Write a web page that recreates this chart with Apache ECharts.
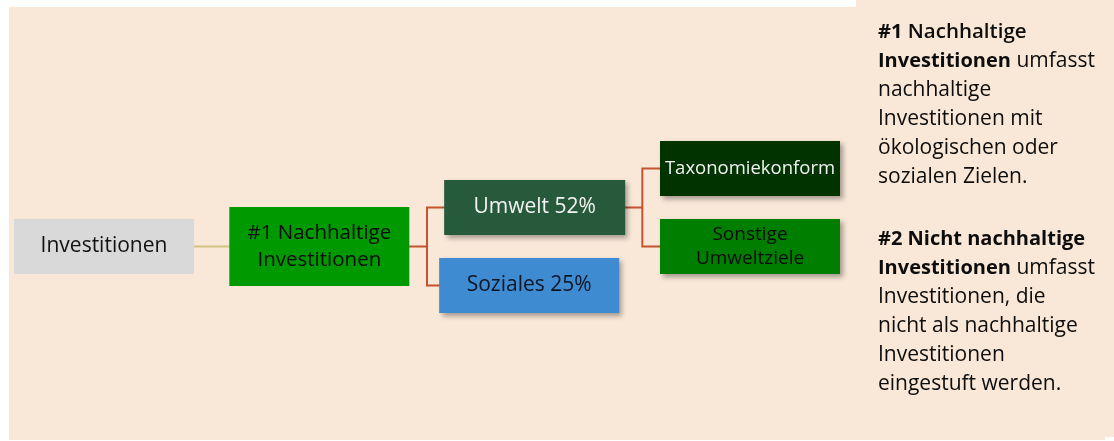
<!DOCTYPE html>
<html>
<head>
<meta charset="utf-8">
<script src="https://cdn.jsdelivr.net/npm/echarts@6/dist/echarts.min.js"></script>
<style>
  html, body { margin: 0; padding: 0; background: #fff; }
  #chart { width: 1114px; height: 441px; }
</style>
</head>
<body>
<div id="chart"></div>
<script>
// tree nodes and the parent of each (-1 = root)
const nodeNames = ['Investitionen', '#1 Nachhaltige\nInvestitionen', 'Umwelt 52%', 'Soziales 25%', 'Taxonomiekonform', 'Sonstige\nUmweltziele']
const nodeParents = [-1, 0, 1, 1, 2, 2]

// explanation text on the right ({b|..} = bold, {s|..} = semibold)
const noteOne = ['{b|#1} {s|Nachhaltige}', '{b|Investitionen} umfasst', 'nachhaltige', 'Investitionen mit', 'ökologischen oder', 'sozialen Zielen.']
const noteTwo = ['{b|#2 Nicht nachhaltige}', '{b|Investitionen} umfasst', 'Investitionen, die', 'nicht als nachhaltige', 'Investitionen', 'eingestuft werden.']

const FONT = 'Open Sans'
const RED = '#C4532F'
const TAN = '#D2C483'

// look of every box, same order as nodeNames
const boxLook = [
  { size: [180, 55], fill: '#D9D9D9', text: '#111', font: 21, line: TAN },
  { size: [180, 79], fill: '#009900', text: '#0A0A0A', font: 20.5, lh: 27, line: RED },
  { size: [181, 55], fill: '#265A3B', text: '#F4F4F4', font: 21, shadow: true, line: RED },
  { size: [180, 55], fill: '#3F8BD1', text: '#0E1626', font: 21, shadow: true, offset: [-5.5, 0] },
  { size: [180, 55], fill: '#003300', text: '#F2F2F2', font: 18.5, shadow: true },
  { size: [180, 55], fill: '#007E00', text: '#0A0A0A', font: 19, lh: 24, shadow: true }
]

function buildNode(i, withBoxes) {
  const s = boxLook[i]
  const children = []
  nodeParents.forEach((p, j) => { if (p === i) children.push(buildNode(j, withBoxes)) })
  const node = {
    name: nodeNames[i],
    children: children,
    lineStyle: { color: s.line || RED }
  }
  if (withBoxes) {
    node.symbolSize = s.size
    node.symbolOffset = s.offset || [0, 0]
    node.itemStyle = {
      color: s.fill,
      borderWidth: 0,
      shadowBlur: s.shadow ? 5 : 0,
      shadowOffsetX: s.shadow ? 3 : 0,
      shadowOffsetY: s.shadow ? 3 : 0,
      shadowColor: 'rgba(0,0,0,0.35)'
    }
    node.label = {
      show: true,
      position: 'inside',
      color: s.text,
      fontSize: s.font,
      lineHeight: s.lh || s.font * 1.3,
      fontFamily: FONT
    }
  }
  return node
}

const treeBox = { left: 104, right: 364, top: 90.5, bottom: 77.5 }

const noteStyle = {
  fill: '#0D0D0D', fontFamily: FONT, fontSize: 21, lineHeight: 29,
  rich: {
    b: { fontWeight: 'bold', fontFamily: FONT, fontSize: 20, lineHeight: 29, fill: '#0D0D0D' },
    s: { fontWeight: 600, fontFamily: FONT, fontSize: 20.5, lineHeight: 29, fill: '#0D0D0D' }
  }
}

const chart = echarts.init(document.getElementById('chart'))
chart.setOption({
  animation: false,
  graphic: [
    { type: 'rect', shape: { x: 9, y: 7, width: 1096, height: 433 }, style: { fill: '#F9E7D7' }, z: -10 },
    { type: 'rect', shape: { x: 856, y: 0, width: 258, height: 437 }, style: { fill: '#F9E7D7' }, z: -10 },
    { type: 'text', x: 878, y: 17.5, style: Object.assign({ text: noteOne.join('\n') }, noteStyle) },
    { type: 'text', x: 878, y: 224.5, style: Object.assign({ text: noteTwo.join('\n') }, noteStyle) }
  ],
  series: [
    // connectors only, drawn below the boxes
    Object.assign({
      type: 'tree',
      z: 1,
      orient: 'LR',
      layout: 'orthogonal',
      edgeShape: 'polyline',
      edgeForkPosition: '50%',
      expandAndCollapse: false,
      initialTreeDepth: -1,
      roam: false,
      silent: true,
      symbol: 'none',
      symbolSize: 0,
      label: { show: false },
      leaves: { label: { show: false } },
      lineStyle: { width: 2, curveness: 0 },
      data: [buildNode(0, false)]
    }, treeBox),
    // boxes with labels
    Object.assign({
      type: 'tree',
      z: 2,
      orient: 'LR',
      layout: 'orthogonal',
      edgeShape: 'polyline',
      edgeForkPosition: '50%',
      expandAndCollapse: false,
      initialTreeDepth: -1,
      roam: false,
      symbol: 'rect',
      label: { position: 'inside' },
      leaves: { label: { position: 'inside' } },
      lineStyle: { width: 0, opacity: 0 },
      emphasis: { disabled: true },
      data: [buildNode(0, true)]
    }, treeBox)
  ]
})
</script>
</body>
</html>
